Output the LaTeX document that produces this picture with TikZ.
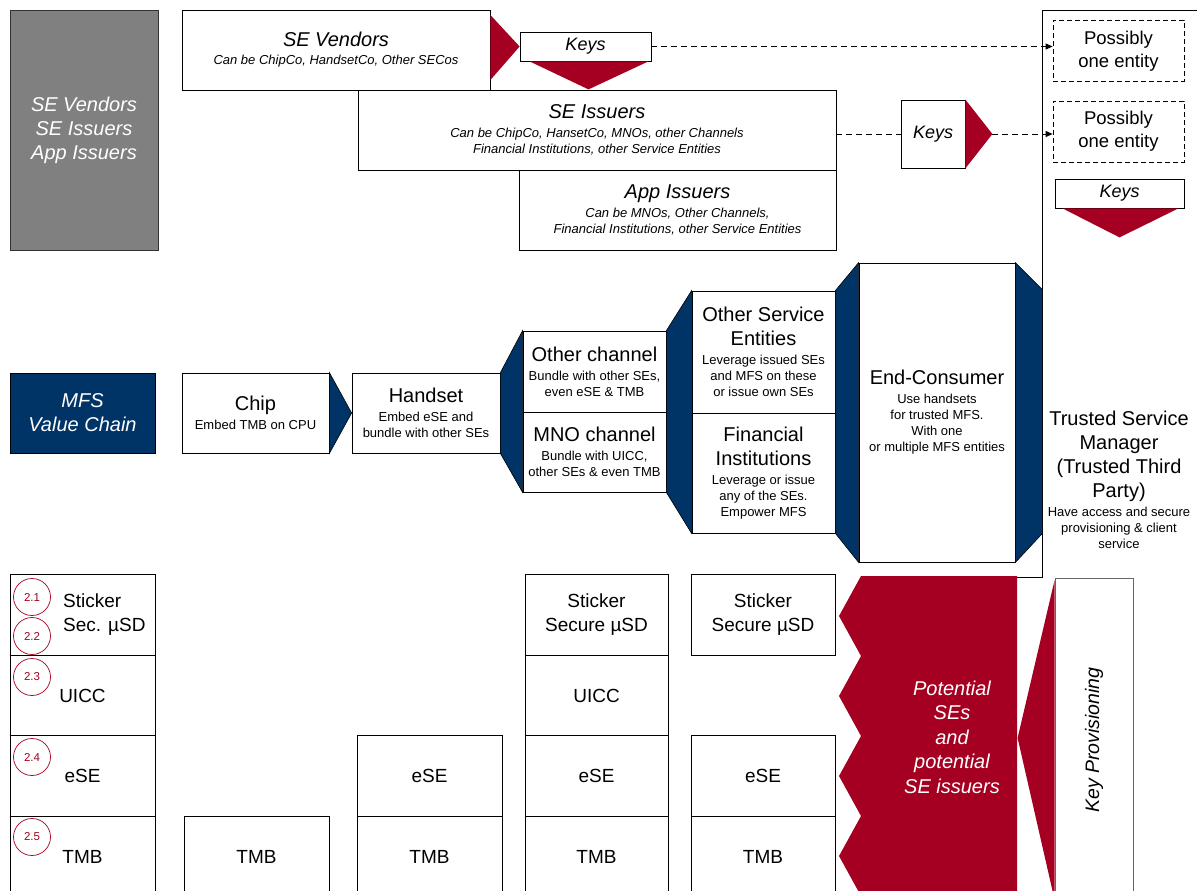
\documentclass[tikz,border=0pt]{standalone}
\usepackage{fontspec}
\setmainfont{Liberation Sans}
\usepackage{tikz}
\usetikzlibrary{calc,arrows.meta}
\definecolor{mfsred}{RGB}{165,0,33}
\definecolor{mfsblue}{RGB}{0,51,102}
\definecolor{mfsgrey}{RGB}{128,128,128}
\newcommand{\bigtxt}{\fontsize{20}{24}\selectfont}
\newcommand{\smalltxt}{\fontsize{13}{16}\selectfont}

\begin{document}
\begin{tikzpicture}[x=1pt,y=-1pt,
  box/.style 2 args={draw,fill=white,line width=0.8pt,minimum width=#1,minimum height=#2,inner sep=0pt,align=center,font=\smalltxt},
  keybox/.style 2 args={box={#1}{#2},font=\itshape\fontsize{18}{22}\selectfont},
  maybe/.style={box={131}{61},dash pattern=on 5pt off 3pt,font=\fontsize{18.5}{23}\selectfont},
  sebox/.style={box={#1}{80.5},font=\fontsize{19}{24}\selectfont},
  num/.style={circle,draw=mfsred,text=mfsred,line width=0.7pt,minimum size=37pt,inner sep=0pt,font=\fontsize{11.5}{13}\selectfont},
  bluepart/.style={fill=mfsblue,draw=black,line width=0.6pt},
  keyline/.style={dash pattern=on 6pt off 4pt,line width=0.9pt,-{Triangle[length=7pt,width=6pt]}}]
\useasboundingbox (0,0) rectangle (1197,891);
\clip (0,0) rectangle (1197,891);
\draw[line width=0.8pt] (1017,577) -- (1042,577) -- (1042,10) -- (1210,10);
\node[box={148}{240},fill=mfsgrey,draw=black!80,text=white,font=\itshape\bigtxt] (grp) at (84,130) {SE Vendors\\SE Issuers\\App Issuers};
\node[box={478}{80},font=\itshape\smalltxt] (issu) at (597,130) {{\bigtxt SE Issuers}\\[3pt]Can be ChipCo, HansetCo, MNOs, other Channels\\Financial Institutions, other Service Entities};
\node[box={317}{80},font=\itshape\smalltxt] (appi) at (677.5,210) {{\bigtxt App Issuers}\\[3pt]Can be MNOs, Other Channels,\\Financial Institutions, other Service Entities};
\node[box={308}{80},font=\itshape\smalltxt] (vend) at (336,50) {{\bigtxt SE Vendors}\\[2pt]Can be ChipCo, HandsetCo, Other SECos};
\node[keybox={131}{29}] (keysa) at (585.5,46.5) {Keys};
\node[keybox={64}{68}] (keysb) at (933,134) {Keys};
\node[keybox={129}{29}] (keysc) at (1119.5,193.5) {Keys};
\node[maybe] (possa) at (1118.5,51) {Possibly\\one entity};
\node[maybe] (possb) at (1118.5,131.5) {Possibly\\one entity};
\fill[mfsred] ($(vend.east)+(0,-35)$) -- (keysa.west) -- ($(vend.east)+(0,30)$) -- cycle;
\fill[mfsred] ($(keysa.south west)+(10,0)$) -- ($(keysa.south)+(3,28)$) -- ($(keysa.south east)+(-3,0)$) -- cycle;
\fill[mfsred] (keysb.north east) -- ($(keysb.east)+(27,0)$) -- (keysb.south east) -- cycle;
\fill[mfsred] ($(keysc.south west)+(8,0)$) -- ($(keysc.south)+(0,29)$) -- ($(keysc.south east)+(-6,0)$) -- cycle;
\draw[keyline] (keysa.east) -- (keysa.east -| possa.west);
\draw[keyline,-] (keysb.west -| issu.east) -- (keysb.west);
\draw[keyline] ($(keysb.east)+(27,0)$) -- (keysb.east -| possb.west);
\node[box={145}{80},fill=mfsblue,text=white,font=\itshape\bigtxt] (mfs) at (82.5,413) {MFS\\Value Chain};
\node[box={147}{80}] (chip) at (255.5,413) {{\bigtxt Chip}\\[3pt]Embed TMB on CPU};
\node[box={148}{80}] (hand) at (426,413) {{\bigtxt Handset}\\[3pt]Embed eSE and\\bundle with other SEs};
\node[box={143}{81}] (othc) at (594.5,371.5) {{\bigtxt Other channel}\\[3pt]Bundle with other SEs,\\even eSE \& TMB};
\node[box={143}{80}] (mnoc) at (594.5,452) {{\bigtxt MNO channel}\\[3pt]Bundle with UICC,\\other SEs \& even TMB};
\node[box={143}{122}] (othse) at (763.5,352) {{\bigtxt Other Service}\\[8pt]{\bigtxt Entities}\\[3pt]Leverage issued SEs\\and MFS on these\\or issue own SEs};
\node[box={143}{120}] (fin) at (763.5,473) {{\bigtxt Financial}\\[8pt]{\bigtxt Institutions}\\[3pt]Leverage or issue\\any of the SEs.\\Empower MFS};
\node[box={156}{299}] (endc) at (937,412.5) {{\bigtxt End-Consumer}\\[3pt]Use handsets\\for trusted MFS.\\With one\\or multiple MFS entities};
\node[align=center,font=\smalltxt,inner sep=0pt] (tsm) at (1119,480) {{\bigtxt Trusted Service}\\[8pt]{\bigtxt Manager}\\[4pt]{\bigtxt (Trusted Third}\\[5pt]{\bigtxt Party)}\\[3pt]Have access and secure\\provisioning \& client\\service};
\filldraw[bluepart] (chip.north east) -- (hand.west) -- (chip.south east) -- cycle;
\filldraw[bluepart] (hand.north east) -- (othc.north west) -- (mnoc.south west) -- (hand.south east) -- cycle;
\filldraw[bluepart] (othc.north east) -- (othse.north west) -- (fin.south west) -- (mnoc.south east) -- cycle;
\filldraw[bluepart] (othse.north east) -- (endc.north west) -- (endc.south west) -- (fin.south east) -- cycle;
\filldraw[bluepart] (endc.north east) -- ($(endc.north east)+(27,27)$) -- ($(endc.south east)+(27,-29)$) -- (endc.south east) -- cycle;
\node[sebox=145] (stk1) at (82.5,615) {};
\node[anchor=west,align=left,font=\fontsize{19}{24}\selectfont,inner sep=0pt] (stk1t) at (63,615) {Sticker\\Sec. µSD};
\node[sebox=145] (uicc1) at (82.5,695.5) {UICC};
\node[sebox=145] (ese1) at (82.5,776) {eSE};
\node[sebox=145] (tmb1) at (82.5,856.5) {TMB};
\node[sebox=145] (tmb2) at (256.5,856.5) {TMB};
\node[sebox=145] (ese3) at (429.5,776) {eSE};
\node[sebox=145] (tmb3) at (429.5,856.5) {TMB};
\node[sebox=143] (stk4) at (596.5,615) {Sticker\\Secure µSD};
\node[sebox=143] (uicc4) at (596.5,695.5) {UICC};
\node[sebox=143] (ese4) at (596.5,776) {eSE};
\node[sebox=143] (tmb4) at (596.5,856.5) {TMB};
\node[sebox=144] (stk5) at (763,615) {Sticker\\Secure µSD};
\node[sebox=144] (ese5) at (763,776) {eSE};
\node[sebox=144] (tmb5) at (763,856.5) {TMB};
\node[num] (n21) at (32,597) {2.1};
\node[num] (n22) at (32,636) {2.2};
\node[num] (n23) at (32,677) {2.3};
\node[num] (n24) at (32,757) {2.4};
\node[num] (n25) at (32,837) {2.5};
\fill[mfsred] (861,576) -- (839,616) -- (861,656) -- (839,696) -- (861,736) -- (839,776) -- (861,816) -- (839,856) -- (861,896) -- (1017,896) -- (1017,576) -- cycle;
\node[text=white,align=center,font=\itshape\fontsize{20}{24.5}\selectfont] (pot) at (952,737) {Potential\\SEs\\and\\potential\\SE issuers};
\node[box={324}{78},rotate=90,draw=black!60,font=\itshape\fontsize{19.5}{24}\selectfont] (kp) at (1094,740) {Key Provisioning};
\fill[mfsred] ($(kp.north)+(0,-160)$) -- ($(kp.north)+(-37,-2)$) -- ($(kp.north)+(0,160)$) -- cycle;
\end{tikzpicture}
\end{document}
